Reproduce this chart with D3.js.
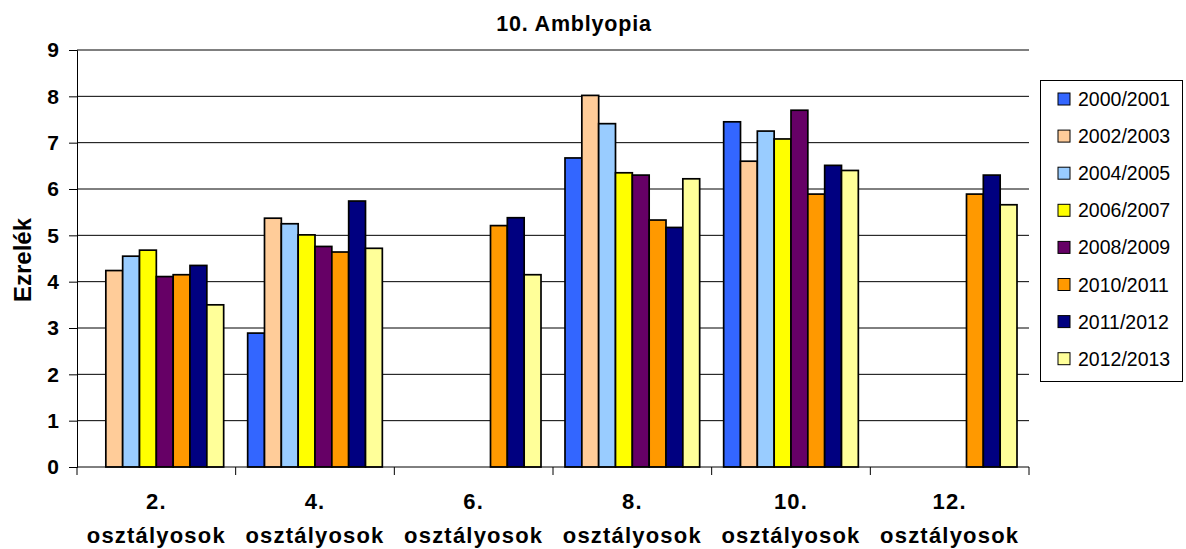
<!DOCTYPE html>
<meta charset="utf-8">
<style>
body { margin: 0; background: #fff; }
svg { font-family: "Liberation Sans", Arial, sans-serif; }
.tick-label { font-size: 21px; font-weight: bold; }
.cat-label { font-size: 22px; font-weight: bold; letter-spacing: 1.2px; }
.legend-text { font-size: 19.5px; }
</style>
<body>
<script src="https://d3js.org/d3.v7.min.js"></script>
<script>

// chart data
var categories = ["2.", "4.", "6.", "8.", "10.", "12."];
var seriesNames = ["2000/2001", "2002/2003", "2004/2005", "2006/2007",
                   "2008/2009", "2010/2011", "2011/2012", "2012/2013"];
var seriesColors = ["#3366FF", "#FFCC99", "#99CCFF", "#FFFF00",
                    "#660066", "#FF9900", "#000080", "#FFFF99"];
var s2000 = [null, 2.89, null, 6.67, 7.45, null];
var s2002 = [4.24, 5.37, null, 8.02, 6.60, null];
var s2004 = [4.55, 5.25, null, 7.41, 7.25, null];
var s2006 = [4.68, 5.01, null, 6.35, 7.08, null];
var s2008 = [4.11, 4.76, null, 6.30, 7.70, null];
var s2010 = [4.15, 4.64, 5.21, 5.33, 5.89, 5.89];
var s2011 = [4.35, 5.74, 5.38, 5.17, 6.51, 6.30];
var s2012 = [3.50, 4.72, 4.15, 6.22, 6.40, 5.66];
var yTicks = [0, 1, 2, 3, 4, 5, 6, 7, 8, 9];

var allSeries = [s2000, s2002, s2004, s2006, s2008, s2010, s2011, s2012];

// plot area (don't call it "top", that's window.top)
var plotL = 77, plotR = 1029, plotT = 50, plotB = 467;

var svg = d3.select("body").append("svg")
    .attr("width", 1186)
    .attr("height", 549);

var x0 = d3.scaleBand().domain(categories).range([plotL, plotR]).padding(0);
var x1 = d3.scaleBand().domain(d3.range(seriesNames.length))
    .range([12, x0.bandwidth() - 12]).padding(0);
var y = d3.scaleLinear().domain([0, 9]).range([plotB, plotT]);

// gridlines
svg.append("g").selectAll("line")
    .data(yTicks.filter(function(d) { return d > 0; }))
  .enter().append("line")
    .attr("x1", plotL).attr("x2", plotR)
    .attr("y1", function(d) { return y(d); })
    .attr("y2", function(d) { return y(d); })
    .attr("stroke", "#000").attr("stroke-width", 1);

// bars
var rows = [];
allSeries.forEach(function(vals, si) {
  vals.forEach(function(v, ci) {
    if (v != null) rows.push({s: si, c: categories[ci], v: v});
  });
});

svg.append("g").selectAll("rect")
    .data(rows)
  .enter().append("rect")
    .attr("x", function(d) { return x0(d.c) + x1(d.s); })
    .attr("width", x1.bandwidth())
    .attr("y", function(d) { return y(d.v); })
    .attr("height", function(d) { return y(0) - y(d.v); })
    .attr("fill", function(d) { return seriesColors[d.s]; })
    .attr("stroke", "#000")
    .attr("stroke-width", 1.7);

// y axis
var yAxis = svg.append("g")
    .attr("transform", "translate(" + plotL + ",0)")
    .call(d3.axisLeft(y).tickValues(yTicks).tickSize(8).tickPadding(10).tickFormat(d3.format("d")));
yAxis.attr("font-family", null).attr("font-size", null);
yAxis.select(".domain").attr("stroke", "#000");
yAxis.selectAll("text").attr("class", "tick-label").attr("fill", "#000");

// x axis
var xAxis = svg.append("g")
    .attr("transform", "translate(0," + plotB + ")");
xAxis.append("line")
    .attr("x1", plotL).attr("x2", plotR)
    .attr("stroke", "#000");
xAxis.selectAll("line.tk")
    .data(d3.range(categories.length + 1))
  .enter().append("line")
    .attr("class", "tk")
    .attr("x1", function(i) { return plotL + i * x0.step(); })
    .attr("x2", function(i) { return plotL + i * x0.step(); })
    .attr("y1", 0).attr("y2", 8)
    .attr("stroke", "#000");

var catText = xAxis.selectAll("text.cat-label")
    .data(categories)
  .enter().append("text")
    .attr("class", "cat-label")
    .attr("text-anchor", "middle");
catText.append("tspan")
    .attr("x", function(d) { return x0(d) + x0.bandwidth() / 2; })
    .attr("y", 42)
    .text(function(d) { return d; });
catText.append("tspan")
    .attr("x", function(d) { return x0(d) + x0.bandwidth() / 2; })
    .attr("y", 76)
    .text("osztályosok");

// y axis label
svg.append("text")
    .attr("transform", "translate(31,260) rotate(-90)")
    .attr("text-anchor", "middle")
    .style("font-size", "24px")
    .style("font-weight", "bold")
    .text("Ezrelék");

// title
svg.append("text")
    .attr("x", 574).attr("y", 31)
    .attr("text-anchor", "middle")
    .style("font-size", "21.5px")
    .style("font-weight", "bold")
    .style("letter-spacing", "0.8px")
    .text("10. Amblyopia");

// legend
var legend = svg.append("g");
legend.append("rect")
    .attr("x", 1040.5).attr("y", 80.5)
    .attr("width", 142).attr("height", 301)
    .attr("fill", "#fff").attr("stroke", "#000");

var items = legend.selectAll("g.item")
    .data(seriesNames)
  .enter().append("g")
    .attr("class", "item")
    .attr("transform", function(d, i) { return "translate(0," + (99 + i * 37.1) + ")"; });
items.append("rect")
    .attr("x", 1058).attr("y", -6)
    .attr("width", 12).attr("height", 12)
    .attr("fill", function(d, i) { return seriesColors[i]; })
    .attr("stroke", "#000");
items.append("text")
    .attr("class", "legend-text")
    .attr("x", 1078).attr("y", 7)
    .text(function(d) { return d; });

</script>
</body>
